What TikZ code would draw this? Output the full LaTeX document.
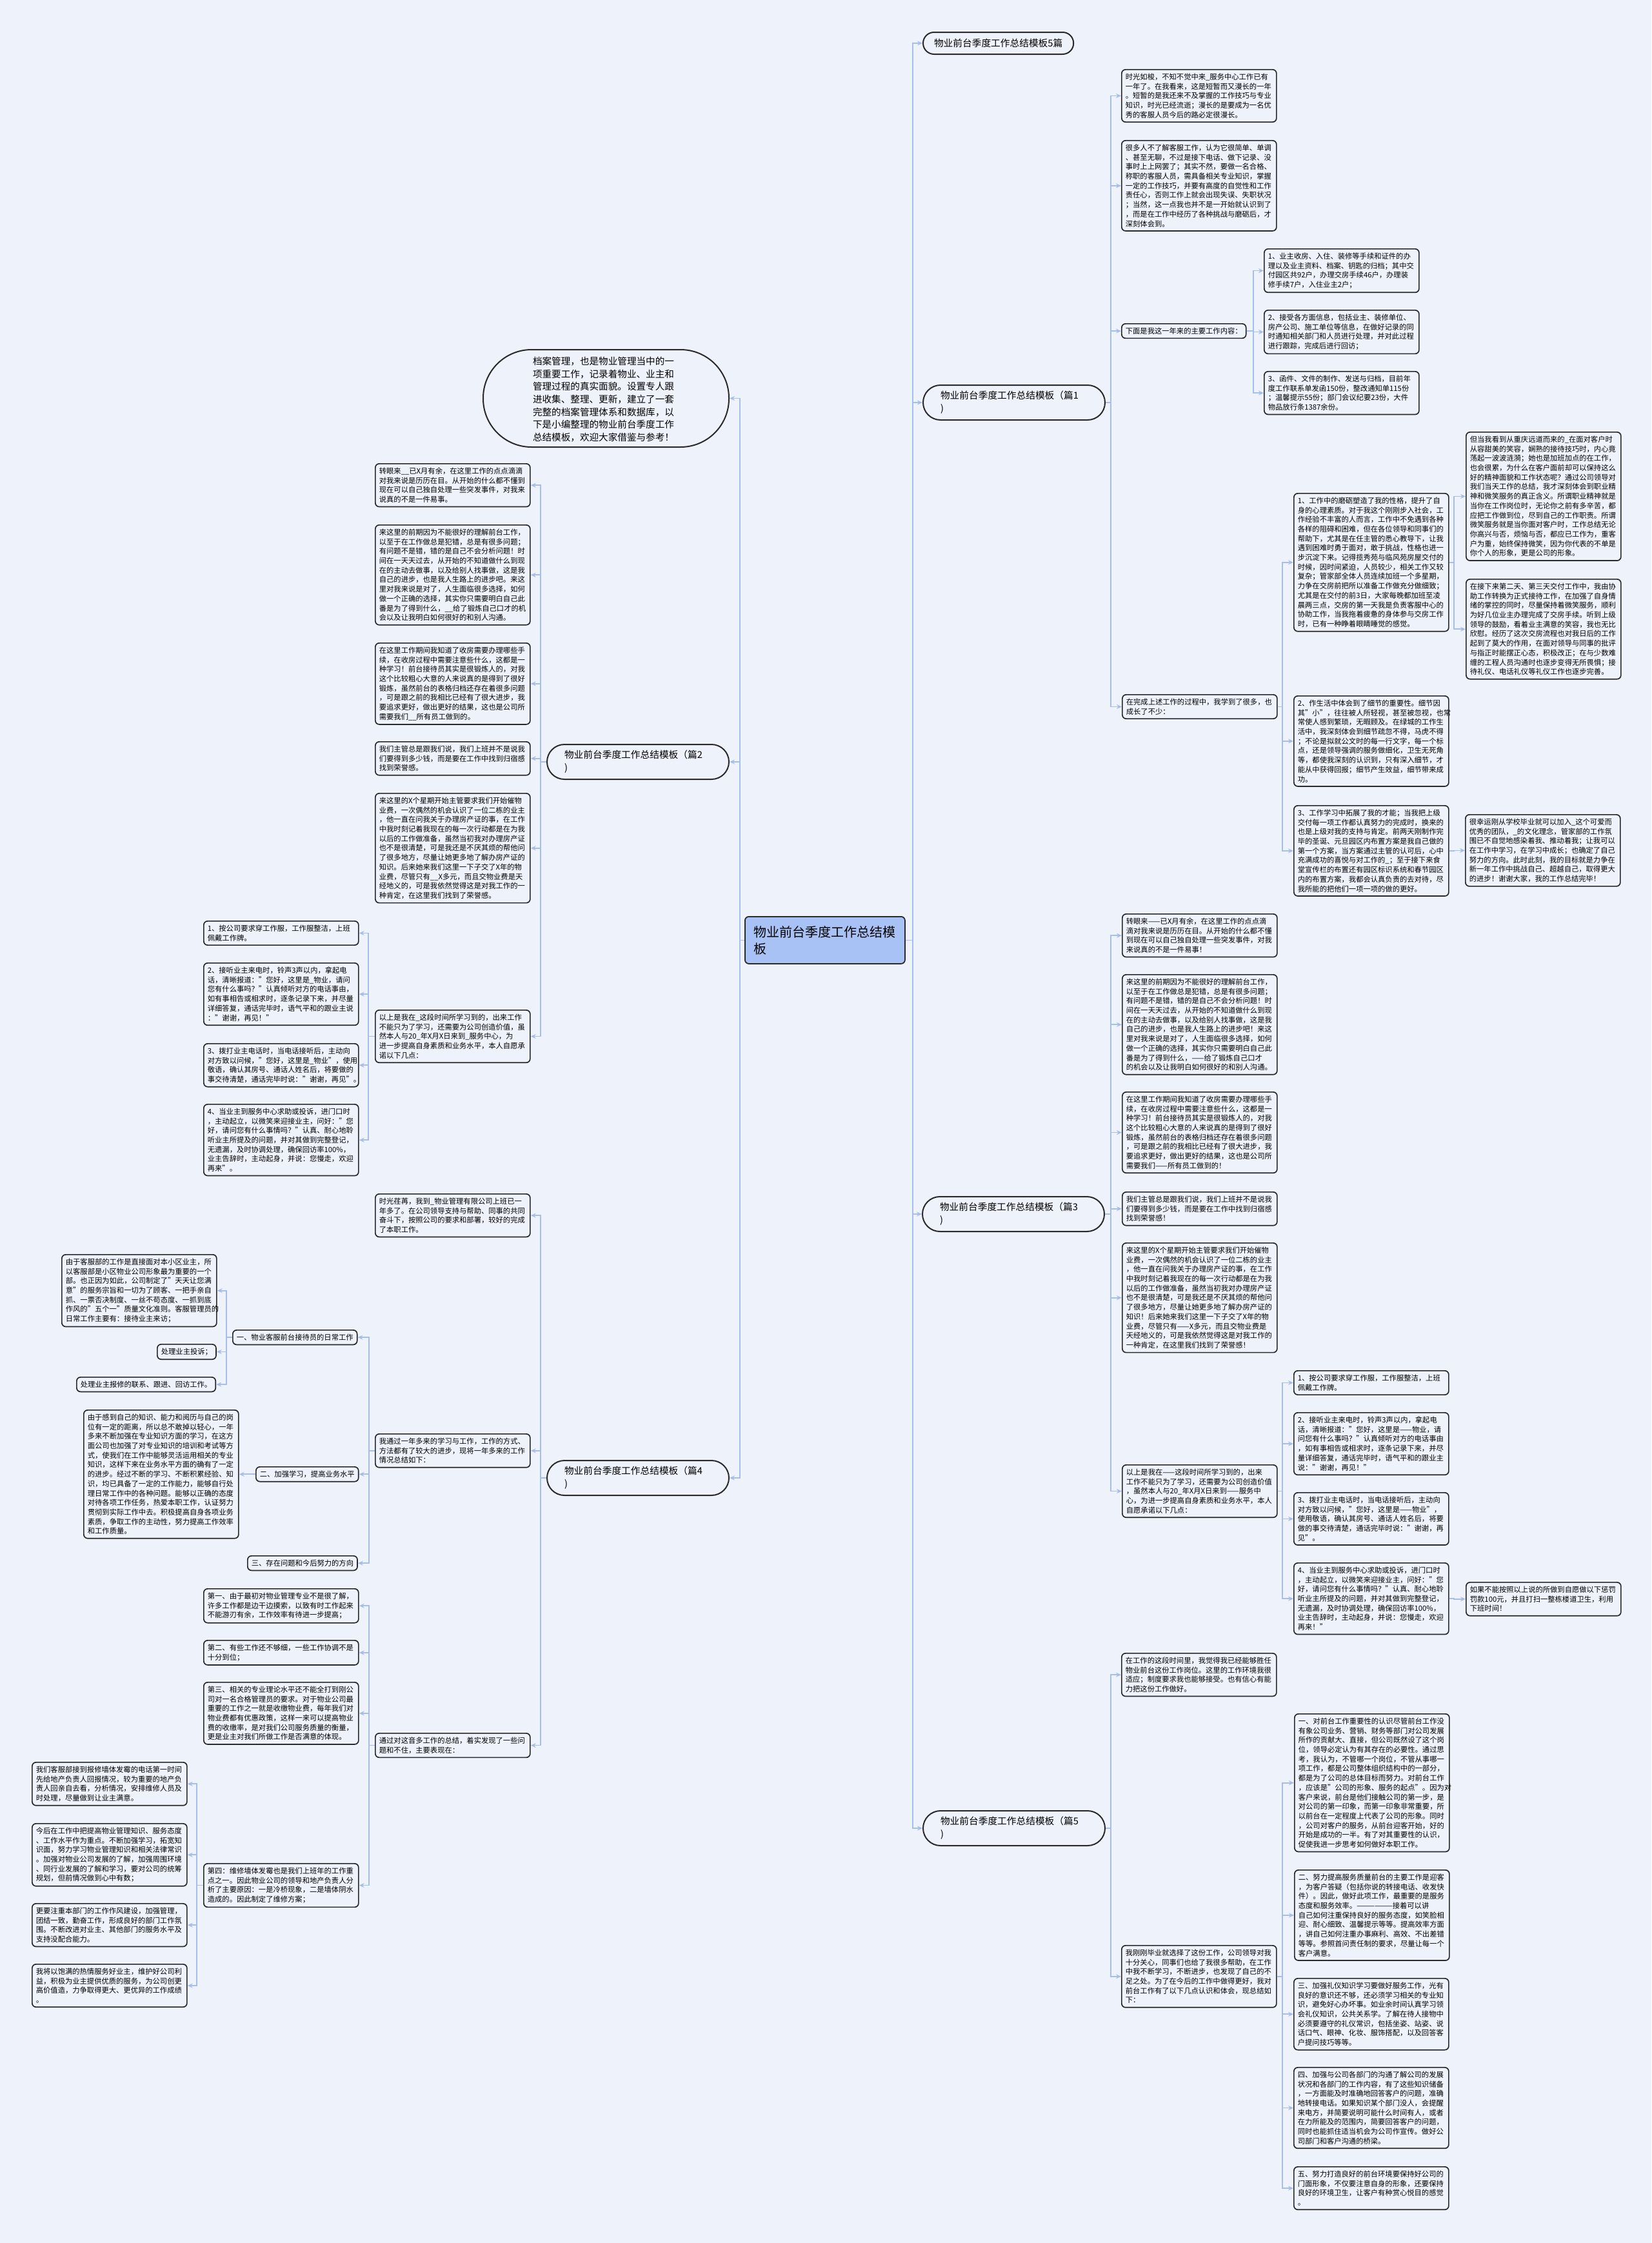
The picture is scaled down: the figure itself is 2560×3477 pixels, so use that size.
\documentclass[tikz,border=0pt]{standalone}
\usepackage{fontspec}
\setmainfont{Noto Sans CJK SC}
\usetikzlibrary{arrows.meta,shapes.geometric}
\definecolor{bg}{HTML}{EEF2FB}
\definecolor{ln}{HTML}{A6BEE8}
\definecolor{bd}{HTML}{2A2A2A}
\definecolor{cf}{HTML}{A9C2F5}
\tikzset{
 tb/.style={draw=bd, line width=1.7pt, rounded corners=6pt, fill=bg, inner xsep=6pt, inner ysep=6pt, font=\fontsize{11.3pt}{14.7pt}\selectfont, align=left, anchor=north west},
 tbm/.style={tb, text width=228pt},
 pill/.style={draw=bd, line width=2pt, fill=bg, rounded corners=27pt, minimum height=54pt, text width=228pt, inner xsep=27pt, align=left, anchor=north west, font=\fontsize{14.7pt}{19.8pt}\selectfont},
 conn/.style={draw=ln, line width=1.7pt, -{Stealth[length=8pt,width=7pt]}},
}
\newcommand\RC[3]{\draw[conn] (#1.east) -- (#1.east -| #3) |- (#2.west);}
\newcommand\LC[3]{\draw[conn] (#1.west) -- (#1.west -| #3) |- (#2.east);}
\begin{document}
\begin{tikzpicture}[x=1pt,y=-1pt]
\fill[bg] (0,0) rectangle (2560,3477);
\useasboundingbox (0,0) rectangle (2560,3477);
% buses
\coordinate (rb0) at (1415,0);
\coordinate (rb1) at (1722,0);
\coordinate (rb2) at (1943,0);
\coordinate (rb3) at (1988,0);
\coordinate (rb4) at (2254,0);
\coordinate (lb0) at (1147,0);
\coordinate (lb1) at (838,0);
\coordinate (lb2) at (571,0);
\coordinate (lb3) at (572,0);
\coordinate (lb4) at (351,0);
\coordinate (lb5) at (382,0);
\coordinate (lb6) at (305,0);
% root
\node[draw=bd, line width=1.8pt, fill=cf, rounded corners=6pt, anchor=north west, text width=220pt, inner xsep=14pt, minimum height=73pt, align=left, font=\fontsize{20pt}{26pt}\selectfont] (root) at (1154,1420) {物业前台季度工作总结模\\板};
% ---------------- right side
\node[draw=bd, line width=2pt, fill=bg, rounded corners=17pt, minimum height=34pt, inner xsep=17pt, anchor=north west, font=\fontsize{14.7pt}{19.8pt}\selectfont] (p0) at (1430,49) {物业前台季度工作总结模板5篇};
\node[pill] (p1) at (1430,596) {物业前台季度工作总结模板（篇1\\)};
\node[pill] (p3) at (1429,1854) {物业前台季度工作总结模板（篇3\\)};
\node[pill] (p5) at (1430,2806) {物业前台季度工作总结模板（篇5\\)};

\node[tbm] (a1) at (1738,107) {时光如梭，不知不觉中来\_服务中心工作已有\\一年了。在我看来，这是短暂而又漫长的一年\\。短暂的是我还来不及掌握的工作技巧与专业\\知识，时光已经流逝；漫长的是要成为一名优\\秀的客服人员今后的路必定很漫长。};
\node[tbm] (a2) at (1738,217) {很多人不了解客服工作，认为它很简单、单调\\、甚至无聊，不过是接下电话、做下记录、没\\事时上上网罢了；其实不然，要做一名合格、\\称职的客服人员，需具备相关专业知识，掌握\\一定的工作技巧，并要有高度的自觉性和工作\\责任心，否则工作上就会出现失误、失职状况\\；当然，这一点我也并不是一开始就认识到了\\，而是在工作中经历了各种挑战与磨砺后，才\\深刻体会到。};
\node[tb] (a3) at (1738,501) {下面是我这一年来的主要工作内容：};
\node[tbm] (s1) at (1959,385) {1、业主收房、入住、装修等手续和证件的办\\理以及业主资料、档案、钥匙的归档；其中交\\付园区共92户，办理交房手续46户，办理装\\修手续7户，入住业主2户；};
\node[tbm] (s2) at (1959,480) {2、接受各方面信息，包括业主、装修单位、\\房产公司、施工单位等信息，在做好记录的同\\时通知相关部门和人员进行处理，并对此过程\\进行跟踪，完成后进行回访；};
\node[tbm] (s3) at (1959,575) {3、函件、文件的制作、发送与归档，目前年\\度工作联系单发函150份，整改通知单115份\\；温馨提示55份；部门会议纪要23份，大件\\物品放行条1387余份。};
\node[tbm] (a4) at (1739,1076) {在完成上述工作的过程中，我学到了很多，也\\成长了不少：};
\node[tbm] (b1) at (2005,764) {1、工作中的磨砺塑造了我的性格，提升了自\\身的心理素质。对于我这个刚刚步入社会，工\\作经验不丰富的人而言，工作中不免遇到各种\\各样的阻碍和困难，但在各位领导和同事们的\\帮助下，尤其是在任主管的悉心教导下，让我\\遇到困难时勇于面对，敢于挑战，性格也进一\\步沉淀下来。记得揽秀苑与临风苑房屋交付的\\时候，因时间紧迫，人员较少，相关工作又较\\复杂；管家部全体人员连续加班一个多星期，\\力争在交房前把所以准备工作做充分做细致；\\尤其是在交付的前3日，大家每晚都加班至凌\\晨两三点，交房的第一天我是负责客服中心的\\协助工作，当我拖着疲惫的身体参与交房工作\\时，已有一种睁着眼睛睡觉的感觉。};
\node[tbm] (c1) at (2272,669) {但当我看到从重庆远道而来的\_在面对客户时\\从容甜美的笑容，娴熟的接待技巧时，内心竟\\荡起一波波涟漪；她也是加班加点的在工作，\\也会很累，为什么在客户面前却可以保持这么\\好的精神面貌和工作状态呢？通过公司领导对\\我们当天工作的总结，我才深刻体会到职业精\\神和微笑服务的真正含义。所谓职业精神就是\\当你在工作岗位时，无论你之前有多辛苦，都\\应把工作做到位，尽到自己的工作职责。所谓\\微笑服务就是当你面对客户时，工作总结无论\\你高兴与否，烦恼与否，都应已工作为，重客\\户为重，始终保持微笑，因为你代表的不单是\\你个人的形象，更是公司的形象。};
\node[tbm] (c2) at (2272,897) {在接下来第二天、第三天交付工作中，我由协\\助工作转换为正式接待工作，在加强了自身情\\绪的掌控的同时，尽量保持着微笑服务，顺利\\为好几位业主办理完成了交房手续。听到上级\\领导的鼓励，看着业主满意的笑容，我也无比\\欣慰。经历了这次交房流程也对我日后的工作\\起到了莫大的作用，在面对领导与同事的批评\\与指正时能摆正心态，积极改正；在与少数难\\缠的工程人员沟通时也逐步变得无所畏惧；接\\待礼仪、电话礼仪等礼仪工作也逐步完善。};
\node[tbm] (b2) at (2005,1078) {2、作生活中体会到了细节的重要性。细节因\\其"小"，往往被人所轻视，甚至被忽视，也常\\常使人感到繁琐，无暇顾及。在绿城的工作生\\活中，我深刻体会到细节疏忽不得，马虎不得\\；不论是拟就公文时的每一行文字，每一个标\\点，还是领导强调的服务做细化，卫生无死角\\等，都使我深刻的认识到，只有深入细节，才\\能从中获得回报；细节产生效益，细节带来成\\功。};
\node[tbm] (b3) at (2005,1248) {3、工作学习中拓展了我的才能；当我把上级\\交付每一项工作都认真努力的完成时，换来的\\也是上级对我的支持与肯定。前两天刚制作完\\毕的圣诞、元旦园区内布置方案是我自己做的\\第一个方案，当方案通过主管的认可后，心中\\充满成功的喜悦与对工作的\_；至于接下来食\\堂宣传栏的布置还有园区标识系统和春节园区\\内的布置方案，我都会认真负责的去对待，尽\\我所能的把他们一项一项的做的更好。};
\node[tbm] (c3) at (2271,1262) {很幸运刚从学校毕业就可以加入\_这个可爱而\\优秀的团队，\_的文化理念，管家部的工作氛\\围已不自觉地感染着我、推动着我；让我可以\\在工作中学习，在学习中成长；也确定了自己\\努力的方向。此时此刻，我的目标就是力争在\\新一年工作中挑战自己、超越自己，取得更大\\的进步！谢谢大家，我的工作总结完毕！};

\node[tbm] (d1) at (1739,1416) {转眼来——已X月有余，在这里工作的点点滴\\滴对我来说是历历在目。从开始的什么都不懂\\到现在可以自己独自处理一些突发事件，对我\\来说真的不是一件易事！};
\node[tbm] (d2) at (1739,1510) {来这里的前期因为不能很好的理解前台工作，\\以至于在工作做总是犯错，总是有很多问题；\\有问题不是错，错的是自己不会分析问题！时\\间在一天天过去，从开始的不知道做什么到现\\在的主动去做事，以及给别人找事做，这是我\\自己的进步，也是我人生路上的进步吧！来这\\里对我来说是对了，人生面临很多选择，如何\\做一个正确的选择，其实你只需要明白自己此\\番是为了得到什么，——给了锻炼自己口才\\的机会以及让我明白如何很好的和别人沟通。};
\node[tbm] (d3) at (1739,1692) {在这里工作期间我知道了收房需要办理哪些手\\续，在收房过程中需要注意些什么，这都是一\\种学习！前台接待员其实是很锻炼人的，对我\\这个比较粗心大意的人来说真的是得到了很好\\锻炼，虽然前台的表格归档还存在着很多问题\\，可是跟之前的我相比已经有了很大进步，我\\要追求更好，做出更好的结果，这也是公司所\\需要我们——所有员工做到的！};
\node[tbm] (d4) at (1739,1847) {我们主管总是跟我们说，我们上班并不是说我\\们要得到多少钱，而是要在工作中找到归宿感\\找到荣誉感！};
\node[tbm] (d5) at (1739,1926) {来这里的X个星期开始主管要求我们开始催物\\业费，一次偶然的机会认识了一位二栋的业主\\，他一直在问我关于办理房产证的事，在工作\\中我时刻记着我现在的每一次行动都是在为我\\以后的工作做准备，虽然当初我对办理房产证\\也不是很清楚，可是我还是不厌其烦的帮他问\\了很多地方，尽量让她更多地了解办房产证的\\知识！后来她来我们这里一下子交了X年的物\\业费，尽管只有——X多元，而且交物业费是\\天经地义的，可是我依然觉得这是对我工作的\\一种肯定，在这里我们找到了荣誉感！};
\node[tbm] (d6) at (1739,2270) {以上是我在——这段时间所学习到的，出来\\工作不能只为了学习，还需要为公司创造价值\\，虽然本人与20\_年X月X日来到——服务中\\心，为进一步提高自身素质和业务水平，本人\\自愿承诺以下几点：};
\node[tbm] (e1) at (2005,2124) {1、按公司要求穿工作服，工作服整洁，上班\\佩戴工作牌。};
\node[tbm] (e2) at (2005,2189) {2、接听业主来电时，铃声3声以内，拿起电\\话，清晰报道："您好，这里是——物业，请\\问您有什么事吗？"认真倾听对方的电话事由\\，如有事相告或相求时，逐条记录下来，并尽\\量详细答复，通话完毕时，语气平和的跟业主\\说："谢谢，再见！"};
\node[tbm] (e3) at (2005,2313) {3、拨打业主电话时，当电话接听后，主动向\\对方致以问候，"您好，这里是——物业"，\\使用敬语，确认其房号、通话人姓名后，将要\\做的事交待清楚，通话完毕时说："谢谢，再\\见"。};
\node[tbm] (e4) at (2005,2422) {4、当业主到服务中心求助或投诉，进门口时\\，主动起立，以微笑来迎接业主，问好："您\\好，请问您有什么事情吗？"认真、耐心地聆\\听业主所提及的问题，并对其做到完整登记，\\无遗漏，及时协调处理，确保回访率100\%，\\业主告辞时，主动起身，并说：您慢走，欢迎\\再来！"};
\node[tbm] (f1) at (2272,2452) {如果不能按照以上说的所做到自愿做以下惩罚\\罚款100元，并且打扫一整栋楼道卫生，利用\\下班时间！};

\node[tbm] (g1) at (1738,2562) {在工作的这段时间里，我觉得我已经能够胜任\\物业前台这份工作岗位。这里的工作环境我很\\适应；制度要求我也能够接受。也有信心有能\\力把这份工作做好。};
\node[tbm] (g2) at (1738,3015) {我刚刚毕业就选择了这份工作，公司领导对我\\十分关心，同事们也给了我很多帮助，在工作\\中我不断学习，不断进步，也发现了自己的不\\足之处。为了在今后的工作中做得更好，我对\\前台工作有了以下几点认识和体会，现总结如\\下：};
\node[tbm] (h1) at (2006,2656) {一、对前台工作重要性的认识尽管前台工作没\\有象公司业务、营销、财务等部门对公司发展\\所作的贡献大、直接，但公司既然设了这个岗\\位，领导必定认为有其存在的必要性。通过思\\考，我认为，不管哪一个岗位，不管从事哪一\\项工作，都是公司整体组织结构中的一部分，\\都是为了公司的总体目标而努力。对前台工作\\，应该是"公司的形象、服务的起点"。因为对\\客户来说，前台是他们接触公司的第一步，是\\对公司的第一印象，而第一印象非常重要，所\\以前台在一定程度上代表了公司的形象。同时\\，公司对客户的服务，从前台迎客开始，好的\\开始是成功的一半。有了对其重要性的认识，\\促使我进一步思考如何做好本职工作。};
\node[tbm] (h2) at (2006,2898) {二、努力提高服务质量前台的主要工作是迎客\\，为客户答疑（包括你说的转接电话、收发快\\件）。因此，做好此项工作，最重要的是服务\\态度和服务效率。——————接着可以讲\\自己如何注重保持良好的服务态度，如笑脸相\\迎、耐心细致、温馨提示等等。提高效率方面\\，讲自己如何注重办事麻利、高效、不出差错\\等等。参照首问责任制的要求，尽量让每一个\\客户满意。};
\node[tbm] (h3) at (2005,3066) {三、加强礼仪知识学习要做好服务工作，光有\\良好的意识还不够，还必须学习相关的专业知\\识，避免好心办坏事。如业余时间认真学习领\\会礼仪知识，公共关系学。了解在待人接物中\\必须要遵守的礼仪常识，包括坐姿、站姿、说\\话口气、眼神、化妆、服饰搭配，以及回答客\\户提问技巧等等。};
\node[tbm] (h4) at (2005,3204) {四、加强与公司各部门的沟通了解公司的发展\\状况和各部门的工作内容，有了这些知识储备\\，一方面能及时准确地回答客户的问题，准确\\地转接电话。如果知识某个部门没人，会提醒\\来电方，并简要说明可能什么时间有人，或者\\在力所能及的范围内，简要回答客户的问题，\\同时也能抓住适当机会为公司作宣传。做好公\\司部门和客户沟通的桥梁。};
\node[tbm] (h5) at (2005,3358) {五、努力打造良好的前台环境要保持好公司的\\门面形象，不仅要注意自身的形象，还要保持\\良好的环境卫生，让客户有种赏心悦目的感觉\\。};

% ---------------- left side
\node[draw=bd, line width=2pt, fill=bg, rounded corners=75pt, minimum width=381pt, minimum height=151pt, inner sep=0pt] (intro) at (939.5,617.5) {};
\node[align=left, text width=222pt, inner sep=0pt, font=\fontsize{14.6pt}{19.6pt}\selectfont] (introtext) at (937,619) {档案管理，也是物业管理当中的一\\项重要工作，记录着物业、业主和\\管理过程的真实面貌。设置专人跟\\进收集、整理、更新，建立了一套\\完整的档案管理体系和数据库，以\\下是小编整理的物业前台季度工作\\总结模板，欢迎大家借鉴与参考！};
\node[pill] (p2) at (847,1153) {物业前台季度工作总结模板（篇2\\)};
\node[pill] (p4) at (847,2263) {物业前台季度工作总结模板（篇4\\)};

\node[tbm] (l1) at (581,718) {转眼来\_\_已X月有余，在这里工作的点点滴滴\\对我来说是历历在目。从开始的什么都不懂到\\现在可以自己独自处理一些突发事件，对我来\\说真的不是一件易事。};
\node[tbm] (l2) at (581,813) {来这里的前期因为不能很好的理解前台工作，\\以至于在工作做总是犯错，总是有很多问题；\\有问题不是错，错的是自己不会分析问题！时\\间在一天天过去，从开始的不知道做什么到现\\在的主动去做事，以及给别人找事做，这是我\\自己的进步，也是我人生路上的进步吧。来这\\里对我来说是对了，人生面临很多选择，如何\\做一个正确的选择，其实你只需要明白自己此\\番是为了得到什么，\_\_给了锻炼自己口才的机\\会以及让我明白如何很好的和别人沟通。};
\node[tbm] (l3) at (581,996) {在这里工作期间我知道了收房需要办理哪些手\\续，在收房过程中需要注意些什么，这都是一\\种学习！前台接待员其实是很锻炼人的，对我\\这个比较粗心大意的人来说真的是得到了很好\\锻炼，虽然前台的表格归档还存在着很多问题\\，可是跟之前的我相比已经有了很大进步，我\\要追求更好，做出更好的结果，这也是公司所\\需要我们\_\_所有员工做到的。};
\node[tbm] (l4) at (581,1149) {我们主管总是跟我们说，我们上班并不是说我\\们要得到多少钱，而是要在工作中找到归宿感\\找到荣誉感。};
\node[tbm] (l5) at (581,1229) {来这里的X个星期开始主管要求我们开始催物\\业费，一次偶然的机会认识了一位二栋的业主\\，他一直在问我关于办理房产证的事，在工作\\中我时刻记着我现在的每一次行动都是在为我\\以后的工作做准备，虽然当初我对办理房产证\\也不是很清楚，可是我还是不厌其烦的帮他问\\了很多地方，尽量让她更多地了解办房产证的\\知识。后来她来我们这里一下子交了X年的物\\业费，尽管只有\_\_X多元，而且交物业费是天\\经地义的，可是我依然觉得这是对我工作的一\\种肯定，在这里我们找到了荣誉感。};
\node[tbm] (l6) at (581,1565) {以上是我在\_这段时间所学习到的，出来工作\\不能只为了学习，还需要为公司创造价值，虽\\然本人与20\_年X月X日来到\_服务中心，为\\进一步提高自身素质和业务水平，本人自愿承\\诺以下几点：};
\node[tbm] (m1) at (315,1427) {1、按公司要求穿工作服，工作服整洁，上班\\佩戴工作牌。};
\node[tbm] (m2) at (315,1492) {2、接听业主来电时，铃声3声以内，拿起电\\话，清晰报道："您好，这里是\_物业，请问\\您有什么事吗？"认真倾听对方的电话事由，\\如有事相告或相求时，逐条记录下来，并尽量\\详细答复，通话完毕时，语气平和的跟业主说\\："谢谢，再见！"};
\node[tbm] (m3) at (315,1617) {3、拨打业主电话时，当电话接听后，主动向\\对方致以问候，"您好，这里是\_物业"，使用\\敬语，确认其房号、通话人姓名后，将要做的\\事交待清楚，通话完毕时说："谢谢，再见"。};
\node[tbm] (m4) at (315,1711) {4、当业主到服务中心求助或投诉，进门口时\\，主动起立，以微笑来迎接业主，问好："您\\好，请问您有什么事情吗？"认真、耐心地聆\\听业主所提及的问题，并对其做到完整登记，\\无遗漏，及时协调处理，确保回访率100\%，\\业主告辞时，主动起身，并说：您慢走，欢迎\\再来"。};

\node[tbm] (n1) at (581,1850) {时光荏苒，我到\_物业管理有限公司上班已一\\年多了。在公司领导支持与帮助、同事的共同\\奋斗下，按照公司的要求和部署，较好的完成\\了本职工作。};
\node[tbm] (n2) at (581,2222) {我通过一年多来的学习与工作，工作的方式、\\方法都有了较大的进步，现将一年多来的工作\\情况总结如下：};
\node[tb] (o1) at (360,2061) {一、物业客服前台接待员的日常工作};
\node[tbm] (k1) at (95,1944) {由于客服部的工作是直接面对本小区业主，所\\以客服部是小区物业公司形象最为重要的一个\\部。也正因为如此，公司制定了"天天让您满\\意"的服务宗旨和一切为了顾客、一把手亲自\\抓、一票否决制度、一丝不苟态度、一抓到底\\作风的"五个一"质量文化准则。客服管理员的\\日常工作主要有：接待业主来访；};
\node[tb] (k2) at (243,2083) {处理业主投诉；};
\node[tb] (k3) at (118,2134) {处理业主报修的联系、跟进、回访工作。};
\node[tb] (o2) at (396,2273) {二、加强学习，提高业务水平};
\node[tbm] (q1) at (129,2185) {由于感到自己的知识、能力和阅历与自己的岗\\位有一定的距离，所以总不敢掉以轻心，一年\\多来不断加强在专业知识方面的学习，在这方\\面公司也加强了对专业知识的培训和考试等方\\式，使我们在工作中能够灵活运用相关的专业\\知识，这样下来在业务水平方面的确有了一定\\的进步。经过不断的学习、不断积累经验、知\\识，均已具备了一定的工作能力，能够自行处\\理日常工作中的各种问题。能够以正确的态度\\对待各项工作任务，热爱本职工作，认证努力\\贯彻到实际工作中去。积极提高自身各项业务\\素质，争取工作的主动性，努力提高工作效率\\和工作质量。};
\node[tb] (o3) at (383,2411) {三、存在问题和今后努力的方向};
\node[tbm] (r1) at (315,2462) {第一、由于最初对物业管理专业不是很了解，\\许多工作都是边干边摸索，以致有时工作起来\\不能游刃有余，工作效率有待进一步提高；};
\node[tbm] (r2) at (315,2542) {第二、有些工作还不够细，一些工作协调不是\\十分到位；};
\node[tbm] (r3) at (315,2607) {第三、相关的专业理论水平还不能全打到刚公\\司对一名合格管理员的要求。对于物业公司最\\重要的工作之一就是收缴物业费，每年我们对\\物业费都有优惠政策，这样一来可以提高物业\\费的收缴率，是对我们公司服务质量的衡量，\\更是业主对我们所做工作是否满意的体现。};
\node[tbm] (n3) at (581,2686) {通过对这音多工作的总结，着实发现了一些问\\题和不住，主要表现在：};
\node[tbm] (t1) at (315,2888) {第四：维修墙体发霉也是我们上班年的工作重\\点之一。因此物业公司的领导和地产负责人分\\析了主要原因：一是冷桥现象，二是墙体阴水\\造成的。因此制定了维修方案；};
\node[tbm] (u1) at (49,2731) {我们客服部接到报修墙体发霉的电话第一时间\\先给地产负责人回报情况，较为重要的地产负\\责人回亲自去看，分析情况，安排维修人员及\\时处理，尽量做到让业主满意。};
\node[tbm] (u2) at (49,2826) {今后在工作中把提高物业管理知识、服务态度\\、工作水平作为重点。不断加强学习，拓宽知\\识面，努力学习物业管理知识和相关法律常识\\。加强对物业公司发展的了解，加强周围环境\\、同行业发展的了解和学习，要对公司的统筹\\规划，但前情况做到心中有数；};
\node[tbm] (u3) at (49,2950) {更要注重本部门的工作作风建设，加强管理，\\团结一致，勤奋工作，形成良好的部门工作氛\\围。不断改进对业主、其他部门的服务水平及\\支持没配合能力。};
\node[tbm] (u4) at (49,3044) {我将以饱满的热情服务好业主，维护好公司利\\益，积极为业主提供优质的服务，为公司创更\\高价值造，力争取得更大、更优异的工作成绩\\。};

% ---------------- connectors right
\foreach \c in {p0,p1,p3,p5} {\RC{root}{\c}{rb0}}
\foreach \c in {a1,a2,a3,a4} {\RC{p1}{\c}{rb1}}
\foreach \c in {s1,s2,s3} {\RC{a3}{\c}{rb2}}
\foreach \c in {b1,b2,b3} {\RC{a4}{\c}{rb3}}
\foreach \c in {c1,c2} {\RC{b1}{\c}{rb4}}
\RC{b3}{c3}{rb4}
\foreach \c in {d1,d2,d3,d4,d5,d6} {\RC{p3}{\c}{rb1}}
\foreach \c in {e1,e2,e3,e4} {\RC{d6}{\c}{rb3}}
\RC{e4}{f1}{rb4}
\foreach \c in {g1,g2} {\RC{p5}{\c}{rb1}}
\foreach \c in {h1,h2,h3,h4,h5} {\RC{g2}{\c}{rb3}}
% ---------------- connectors left
\foreach \c in {intro,p2,p4} {\LC{root}{\c}{lb0}}
\foreach \c in {l1,l2,l3,l4,l5,l6} {\LC{p2}{\c}{lb1}}
\foreach \c in {m1,m2,m3,m4} {\LC{l6}{\c}{lb2}}
\foreach \c in {n1,n2,n3} {\LC{p4}{\c}{lb1}}
\foreach \c in {o1,o2,o3} {\LC{n2}{\c}{lb3}}
\foreach \c in {k1,k2,k3} {\LC{o1}{\c}{lb4}}
\LC{o2}{q1}{lb5}
\foreach \c in {r1,r2,r3,t1} {\LC{n3}{\c}{lb3}}
\foreach \c in {u1,u2,u3,u4} {\LC{t1}{\c}{lb6}}
\end{tikzpicture}
\end{document}
